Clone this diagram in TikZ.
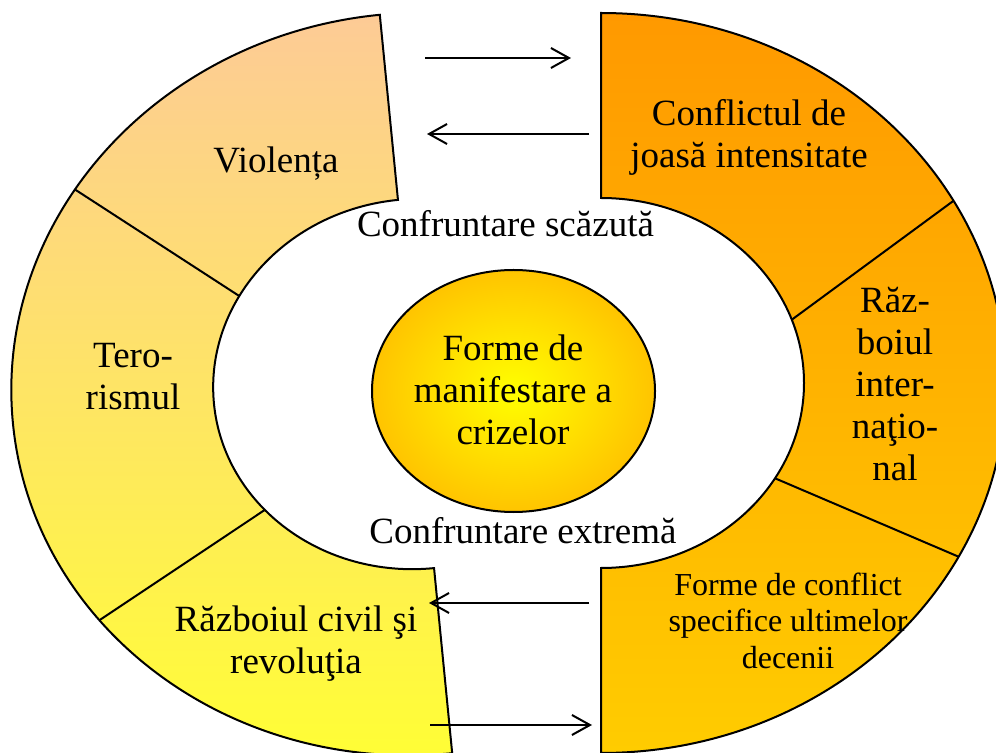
\documentclass[tikz,border=0pt]{standalone}
\usepackage{fontspec}
\setmainfont{Liberation Serif}
\usetikzlibrary{arrows.meta}
\definecolor{lctop}{RGB}{253,203,150}
\definecolor{lcbot}{RGB}{255,255,51}
\definecolor{rctop}{RGB}{255,153,0}
\definecolor{rcbot}{RGB}{255,204,0}
\definecolor{elin}{RGB}{255,255,0}
\definecolor{elout}{RGB}{255,196,0}
\begin{document}
\begin{tikzpicture}[x=0.5pt,y=0.5pt,
  outl/.style={draw=black,line width=1pt},
  divider/.style={draw=black,line width=1pt},
  lbl/.style={font=\fontsize{18.5}{21}\selectfont,align=center,inner sep=0pt},
  lblsmall/.style={font=\fontsize{16}{18.25}\selectfont,align=center,inner sep=0pt},
  arr/.style={line width=1pt,-{Straight Barb[length=9pt,width=10pt]}}]
\useasboundingbox (0,0) rectangle (996,-753);

% left block arc
\begin{scope}[shift={(416,-384)},rotate=5.6]
  \draw[outl,top color=lctop,bottom color=lcbot]
    (0,371) arc[start angle=90,end angle=270,x radius=405,y radius=371]
    -- (0,-185) arc[start angle=270,end angle=90,x radius=203,y radius=185]
    -- cycle;
  \draw[divider] (142.3:405 and 371) -- (145.5:203 and 185);
  \draw[divider] (213.4:405 and 371) -- (216.7:203 and 185);
\end{scope}

% right block arc
\begin{scope}[shift={(601,-383)}]
  \draw[outl,top color=rctop,bottom color=rcbot]
    (0,370) arc[start angle=90,end angle=-90,x radius=405,y radius=370]
    -- (0,-185) arc[start angle=-90,end angle=90,x radius=203,y radius=185]
    -- cycle;
  \draw[divider] (29.5:405 and 370) -- (20:203 and 185);
  \draw[divider] (-28:405 and 370) -- (-31:203 and 185);
\end{scope}

% centre ellipse
\draw[outl,inner color=elin,outer color=elout] (513.5,-391) ellipse[x radius=141.5,y radius=121];

% labels
\node[lbl,anchor=base] (viol) at (276,-173) {Violența};
\node[lbl] (tero) at (133,-377) {Tero-\\rismul};
\node[lbl] (razciv) at (296,-643.5) {Războiul civil şi\\revoluţia};
\node[lbl] (conf) at (749,-137) {Conflictul de\\joasă intensitate};
\node[lbl] (razint) at (895,-384.5) {Răz-\\boiul\\inter-\\naţio-\\nal};
\node[lblsmall] (forme) at (788,-620.5) {Forme de conflict\\specifice ultimelor\\decenii};
\node[lbl] (centre) at (513,-390) {Forme de\\manifestare a\\crizelor};
\node[lbl,anchor=base] (scaz) at (505.5,-237) {Confruntare scăzută};
\node[lbl,anchor=base] (extr) at (523,-544) {Confruntare extremă};

% arrows
\coordinate (a1s) at (425,-58);
\coordinate (a1e) at (571,-58);
\coordinate (a2s) at (589,-134);
\coordinate (a2e) at (427,-134);
\coordinate (a3s) at (589,-603);
\coordinate (a3e) at (429,-603);
\coordinate (a4s) at (430,-725);
\coordinate (a4e) at (592,-725);
\draw[arr] (a1s) -- (a1e);
\draw[arr] (a2s) -- (a2e);
\draw[arr] (a3s) -- (a3e);
\draw[arr] (a4s) -- (a4e);
\end{tikzpicture}
\end{document}
